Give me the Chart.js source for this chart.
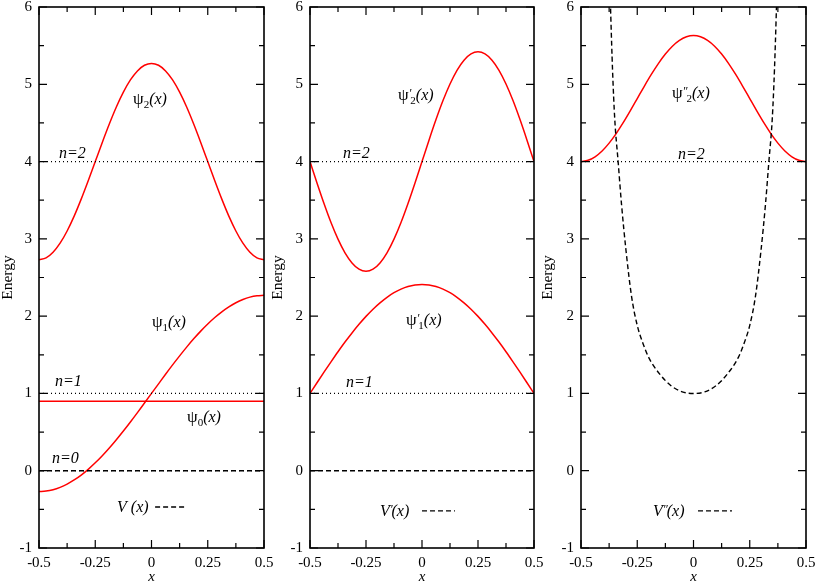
<!DOCTYPE html>
<html>
<head>
<meta charset="utf-8">
<script src="https://cdn.jsdelivr.net/npm/chart.js@4.4.1/dist/chart.umd.min.js"></script>
<style>
  html, body { margin: 0; padding: 0; background: #fff; }
  #wrap { position: relative; width: 817px; height: 585px; }
  #wrap canvas { position: absolute; left: 0; top: 0; }
</style>
</head>
<body>
<div id="wrap">
  <canvas id="p1" width="817" height="585"></canvas>
  <canvas id="p2" width="817" height="585"></canvas>
  <canvas id="p3" width="817" height="585"></canvas>
</div>
<script>
// ---- axes ----
const xTickValues = [-0.5, -0.25, 0, 0.25, 0.5];
const xTickLabels = ['-0.5', '-0.25', '0', '0.25', '0.5'];
const yTickValues = [-1, 0, 1, 2, 3, 4, 5, 6];
const yTickLabels = ['-1', '0', '1', '2', '3', '4', '5', '6'];

const xGrid = [-0.5, -0.46875, -0.4375, -0.40625, -0.375, -0.34375, -0.3125, -0.28125,
               -0.25, -0.21875, -0.1875, -0.15625, -0.125, -0.09375, -0.0625, -0.03125, 0,
               0.03125, 0.0625, 0.09375, 0.125, 0.15625, 0.1875, 0.21875, 0.25,
               0.28125, 0.3125, 0.34375, 0.375, 0.40625, 0.4375, 0.46875, 0.5];
const xEnds = [-0.5, 0.5];

// ---- panel 1 ----
const psi2A = [2.730, 2.754, 2.827, 2.944, 3.102, 3.294, 3.514, 3.752, 4.000, 4.248, 4.486, 4.706, 4.898, 5.056, 5.173, 5.246, 5.270,
               5.246, 5.173, 5.056, 4.898, 4.706, 4.486, 4.248, 4.000, 3.752, 3.514, 3.294, 3.102, 2.944, 2.827, 2.754, 2.730];
const psi1A = [-0.270, -0.264, -0.246, -0.215, -0.173, -0.120, -0.056, 0.018, 0.102, 0.194, 0.294, 0.401, 0.514, 0.631, 0.752, 0.876, 1.000,
               1.124, 1.248, 1.369, 1.486, 1.599, 1.706, 1.806, 1.898, 1.982, 2.056, 2.120, 2.173, 2.215, 2.246, 2.264, 2.270];
const psi0A = [0.9, 0.9];
const potA = [0, 0];

// ---- panel 2 ----
const psi2B = [4.000, 3.723, 3.457, 3.211, 2.996, 2.819, 2.688, 2.607, 2.580, 2.607, 2.688, 2.819, 2.996, 3.211, 3.457, 3.723, 4.000,
               4.277, 4.543, 4.789, 5.004, 5.181, 5.312, 5.393, 5.420, 5.393, 5.312, 5.181, 5.004, 4.789, 4.543, 4.277, 4.000];
const psi1B = [1.000, 1.138, 1.275, 1.409, 1.540, 1.665, 1.783, 1.894, 1.997, 2.090, 2.172, 2.244, 2.303, 2.349, 2.383, 2.403, 2.410,
               2.403, 2.383, 2.349, 2.303, 2.244, 2.172, 2.090, 1.997, 1.894, 1.783, 1.665, 1.540, 1.409, 1.275, 1.138, 1.000];
const potB = [0, 0];

// ---- panel 3 ----
const psi2C = [4.000, 4.016, 4.062, 4.137, 4.239, 4.362, 4.503, 4.656, 4.815, 4.974, 5.127, 5.268, 5.391, 5.493, 5.568, 5.614, 5.630,
               5.614, 5.568, 5.493, 5.391, 5.268, 5.127, 4.974, 4.815, 4.656, 4.503, 4.362, 4.239, 4.137, 4.062, 4.016, 4.000];
const potCx = [-0.375, -0.36, -0.35, -0.335, -0.32, -0.3, -0.275, -0.25, -0.225, -0.2, -0.15, -0.1, -0.05, 0,
               0.05, 0.1, 0.15, 0.2, 0.225, 0.25, 0.275, 0.3, 0.32, 0.335, 0.35, 0.36, 0.375];
const potC = [6.6, 5.2, 4.55, 4.0, 3.45, 2.85, 2.25, 1.88, 1.65, 1.47, 1.25, 1.10, 1.02, 1.00,
              1.02, 1.10, 1.25, 1.47, 1.65, 1.88, 2.25, 2.85, 3.45, 4.0, 4.55, 5.2, 6.6];

// energy levels
const levelN0 = [0, 0];
const levelN1 = [1, 1];
const levelN2 = [4, 4];

const SERIF = '"Liberation Serif", "Times New Roman", serif';
const RED = '#ff0000';

const pts = (xs, ys) => xs.map((x, i) => ({x: x, y: ys[i]}));

const curve = (xs, ys) => ({
    data: pts(xs, ys), borderColor: RED, borderWidth: 1.5,
    pointRadius: 0, cubicInterpolationMode: 'monotone', fill: false
});
const dotted = (ys) => ({
    data: pts(xEnds, ys), borderColor: '#000', borderWidth: 1.2,
    borderDash: [1, 3], pointRadius: 0, fill: false
});
const dashed = (xs, ys) => ({
    data: pts(xs, ys), borderColor: '#000', borderWidth: 1.4,
    borderDash: [5, 3], pointRadius: 0, fill: false,
    cubicInterpolationMode: 'monotone'
});

// text notes: [text, kind]; kind g = greek, i = italic, sub / sup
const psiParts = (primes, n) => {
    const p = [['ψ', 'g']];
    if (primes) p.push([primes, 'sup']);
    p.push([n, 'sub'], ['(x)', 'i']);
    return p;
};

const notesA = [
    {x: -0.082, y: 4.81, parts: psiParts('', '2')},
    {x: -0.411, y: 4.11, parts: [['n=2', 'i']]},
    {x: 0.002, y: 1.925, parts: psiParts('', '1')},
    {x: -0.429, y: 1.16, parts: [['n=1', 'i']]},
    {x: 0.158, y: 0.70, parts: psiParts('', '0')},
    {x: -0.442, y: 0.165, parts: [['n=0', 'i']]},
    {x: -0.153, y: -0.47, parts: [['V', 'i'], [' (x)', 'i']], key: [0.016, 0.158]}
];
const notesB = [
    {x: -0.107, y: 4.86, parts: psiParts('\u2032', '2')},
    {x: -0.353, y: 4.11, parts: [['n=2', 'i']]},
    {x: -0.071, y: 1.95, parts: psiParts('\u2032', '1')},
    {x: -0.339, y: 1.15, parts: [['n=1', 'i']]},
    {x: -0.187, y: -0.52, parts: [['V', 'i'], ['\u2032', 'sup'], ['(x)', 'i']], key: [0.0, 0.147]}
];
const notesC = [
    {x: -0.096, y: 4.89, parts: psiParts('\u2033', '2')},
    {x: -0.069, y: 4.10, parts: [['n=2', 'i']]},
    {x: -0.18, y: -0.52, parts: [['V', 'i'], ['\u2033', 'sup'], ['(x)', 'i']], key: [0.02, 0.171]}
];

const partFont = {
    g: ['normal', 17, 0],
    i: ['italic', 16, 0],
    sub: ['normal', 11, 4],
    sup: ['italic', 12, -3]
};

// inward major/minor ticks on all four sides plus the frame
const framePlugin = {
    id: 'frame',
    afterDatasetsDraw(chart) {
        const {ctx, chartArea: a, scales: {x, y}} = chart;
        ctx.save();
        ctx.strokeStyle = '#000';
        ctx.lineWidth = 1.2;
        ctx.beginPath();
        const vTick = (v, len) => {
            const px = x.getPixelForValue(v);
            ctx.moveTo(px, a.bottom); ctx.lineTo(px, a.bottom - len);
            ctx.moveTo(px, a.top); ctx.lineTo(px, a.top + len);
        };
        const hTick = (v, len) => {
            const py = y.getPixelForValue(v);
            ctx.moveTo(a.left, py); ctx.lineTo(a.left + len, py);
            ctx.moveTo(a.right, py); ctx.lineTo(a.right - len, py);
        };
        xTickValues.forEach((v, i) => {
            vTick(v, 8);
            if (i < xTickValues.length - 1) vTick((v + xTickValues[i + 1]) / 2, 5);
        });
        yTickValues.forEach((v, i) => {
            hTick(v, 8);
            if (i < yTickValues.length - 1) hTick((v + yTickValues[i + 1]) / 2, 5);
        });
        ctx.stroke();
        ctx.lineWidth = 1.6;
        ctx.strokeRect(a.left, a.top, a.right - a.left, a.bottom - a.top);
        ctx.restore();
    }
};

const notesPlugin = {
    id: 'notes',
    afterDatasetsDraw(chart, args, opts) {
        const {ctx, scales: {x, y}} = chart;
        ctx.save();
        ctx.fillStyle = '#000';
        ctx.textBaseline = 'alphabetic';
        (opts.items || []).forEach(n => {
            let px = x.getPixelForValue(n.x);
            const base = y.getPixelForValue(n.y) + 5;
            n.parts.forEach(([t, kind]) => {
                const [style, size, dy] = partFont[kind];
                ctx.font = style + ' ' + size + 'px ' + SERIF;
                ctx.fillText(t, px, base + dy);
                px += ctx.measureText(t).width + (kind === 'sup' ? -1 : 0);
            });
            if (n.key) {
                const py = y.getPixelForValue(n.y);
                ctx.strokeStyle = '#000';
                ctx.lineWidth = 1.4;
                ctx.setLineDash([5, 3]);
                ctx.beginPath();
                ctx.moveTo(x.getPixelForValue(n.key[0]), py);
                ctx.lineTo(x.getPixelForValue(n.key[1]), py);
                ctx.stroke();
                ctx.setLineDash([]);
            }
        });
        ctx.restore();
    }
};

function makePanel(id, plotLeft, plotRight, axisWidth, datasets, notes) {
    new Chart(document.getElementById(id), {
        type: 'line',
        data: {datasets: datasets},
        plugins: [framePlugin, notesPlugin],
        options: {
            responsive: false,
            animation: false,
            events: [],
            layout: {padding: {left: plotLeft - axisWidth, right: 817 - plotRight, top: 7, bottom: 0}},
            plugins: {
                legend: {display: false},
                tooltip: {enabled: false},
                notes: {items: notes}
            },
            scales: {
                x: {
                    type: 'linear', min: -0.5, max: 0.5,
                    grid: {display: false, drawTicks: false}, border: {display: false},
                    afterBuildTicks: s => { s.ticks = xTickValues.map(v => ({value: v})); },
                    afterFit: s => { s.height = 37; s.paddingLeft = 0; s.paddingRight = 0; },
                    ticks: {
                        autoSkip: false, maxRotation: 0, padding: 6, color: '#000',
                        font: {family: SERIF, size: 15},
                        callback: (v, i) => xTickLabels[i]
                    },
                    title: {
                        display: true, text: 'x', color: '#000', padding: 0,
                        font: {family: SERIF, size: 15, style: 'italic', lineHeight: 1}
                    }
                },
                y: {
                    type: 'linear', min: -1, max: 6,
                    grid: {display: false, drawTicks: false}, border: {display: false},
                    afterBuildTicks: s => { s.ticks = yTickValues.map(v => ({value: v})); },
                    afterFit: s => { s.width = axisWidth; s.paddingTop = 0; s.paddingBottom = 0; },
                    ticks: {
                        autoSkip: false, padding: 7, color: '#000',
                        font: {family: SERIF, size: 15},
                        callback: (v, i) => yTickLabels[i]
                    },
                    title: {
                        display: true, text: 'Energy', color: '#000', padding: 0,
                        font: {family: SERIF, size: 15.5, lineHeight: 1}
                    }
                }
            }
        }
    });
}

function drawAll() {
    makePanel('p1', 39, 264, 39, [
        dotted(levelN2), dotted(levelN1), dotted(levelN0),
        dashed(xEnds, potA),
        curve(xEnds, psi0A), curve(xGrid, psi1A), curve(xGrid, psi2A)
    ], notesA);

    makePanel('p2', 310, 534, 40, [
        dotted(levelN2), dotted(levelN1),
        dashed(xEnds, potB),
        curve(xGrid, psi1B), curve(xGrid, psi2B)
    ], notesB);

    makePanel('p3', 581, 806, 41, [
        dotted(levelN2),
        dashed(potCx, potC),
        curve(xGrid, psi2C)
    ], notesC);
}

// make sure the serif faces are ready before the canvases are painted
Promise.all([
    document.fonts.load('15px "Liberation Serif"'),
    document.fonts.load('italic 16px "Liberation Serif"'),
    document.fonts.load('17px "Liberation Serif"', 'ψ')
]).then(drawAll, drawAll);
</script>
</body>
</html>
